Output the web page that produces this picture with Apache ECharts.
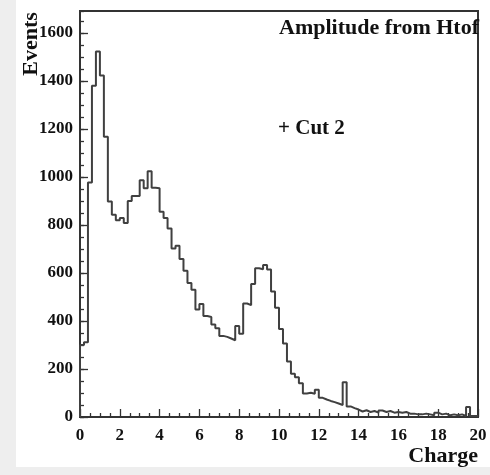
<!DOCTYPE html>
<html>
<head>
<meta charset="utf-8">
<script src="https://cdn.jsdelivr.net/npm/echarts@6/dist/echarts.min.js"></script>
<style>
  html, body { margin: 0; padding: 0; background: #eeeeee; }
  #main { position: absolute; left: 16px; top: 0; width: 474px; height: 467px; background: #ffffff; }
</style>
</head>
<body>
<div id="main"></div>
<script>
  // histogram: 100 bins of width 0.2 from 0 to 20
  var binStart = 0
  var binWidth = 0.2
  var counts = [
    300, 312, 977, 1381, 1523, 1423, 1168, 898, 843, 820,
    829, 808, 900, 921, 921, 987, 953, 1024, 955, 953,
    855, 829, 786, 702, 714, 658, 609, 558, 530, 448,
    471, 421, 417, 385, 370, 338, 334, 327, 320, 379,
    347, 473, 466, 554, 620, 616, 633, 615, 523, 455,
    367, 306, 231, 180, 166, 141, 98, 101, 97, 114,
    80, 73, 67, 62, 56, 50, 145, 44, 37, 31,
    23, 28, 21, 25, 18, 27, 21, 25, 18, 21,
    18, 21, 14, 14, 11, 11, 14, 11, 7, 18,
    11, 14, 7, 11, 7, 11, 4, 42, 4, 4
  ]
  var xTicks = [0, 2, 4, 6, 8, 10, 12, 14, 16, 18, 20]
  var yTicks = [0, 200, 400, 600, 800, 1000, 1200, 1400, 1600]
  var yMax = 1692

  var title = 'Amplitude from Htof'
  var note = '+ Cut 2'
  var xName = 'Charge'
  var yName = 'Events'

  var font = 'Liberation Serif'
  var ink = '#333333'

  // step points at bin edges
  var points = [[binStart, 0]]
  for (var i = 0; i < counts.length; i++) {
    points.push([+(binStart + i * binWidth).toFixed(2), counts[i]])
  }
  points.push([+(binStart + counts.length * binWidth).toFixed(2), counts[counts.length - 1]])

  var chart = echarts.init(document.getElementById('main'), null, { renderer: 'canvas' })

  var labelStyle = {
    color: '#111',
    fontFamily: font,
    fontWeight: 'bold',
    fontSize: 17,
    formatter: function (v) { return String(v) }
  }

  chart.setOption({
    animation: false,
    backgroundColor: '#ffffff',
    textStyle: { fontFamily: font },
    title: [{
      text: title,
      left: 258,
      top: 12,
      textStyle: { fontFamily: font, fontWeight: 'bold', fontSize: 22, color: '#111' }
    }, {
      text: note,
      left: 257,
      top: 113,
      textStyle: { fontFamily: font, fontWeight: 'bold', fontSize: 21, color: '#111' }
    }],
    grid: {
      left: 64,
      top: 11,
      right: 12,
      bottom: 46,
      show: true,
      borderColor: ink,
      borderWidth: 2,
      backgroundColor: 'transparent'
    },
    graphic: [{
      type: 'text',
      x: 15,
      y: 44,
      rotation: Math.PI / 2,
      style: {
        text: yName,
        fontFamily: font,
        fontWeight: 'bold',
        fontSize: 22,
        fill: '#111',
        align: 'center',
        verticalAlign: 'middle'
      }
    }],
    xAxis: {
      type: 'value',
      min: xTicks[0],
      max: xTicks[xTicks.length - 1],
      interval: xTicks[1] - xTicks[0],
      name: xName,
      nameLocation: 'end',
      nameGap: 0,
      nameTextStyle: {
        fontFamily: font,
        fontWeight: 'bold',
        fontSize: 22,
        color: '#111',
        align: 'right',
        verticalAlign: 'top',
        padding: [28, 0, 0, 0]
      },
      axisLine: { show: false },
      axisTick: { inside: true, length: 8, lineStyle: { color: ink, width: 1.3 } },
      minorTick: { show: true, splitNumber: 4, length: 4, lineStyle: { color: ink, width: 1.3 } },
      splitLine: { show: false },
      axisLabel: Object.assign({ margin: 10 }, labelStyle)
    },
    yAxis: [{
      type: 'value',
      min: yTicks[0],
      max: yMax,
      interval: yTicks[1] - yTicks[0],
      axisLine: { show: false },
      axisTick: { inside: true, length: 8, lineStyle: { color: ink, width: 1.3 } },
      splitLine: { show: false },
      axisLabel: Object.assign({ margin: 7, showMaxLabel: false }, labelStyle)
    }, {
      // minor ticks
      type: 'value',
      position: 'left',
      min: yTicks[0],
      max: yMax,
      interval: (yTicks[1] - yTicks[0]) / 4,
      axisLine: { show: false },
      axisTick: { inside: true, length: 4, lineStyle: { color: ink, width: 1.3 } },
      splitLine: { show: false },
      axisLabel: { show: false }
    }],
    series: [{
      name: title,
      type: 'line',
      step: 'end',
      symbol: 'none',
      yAxisIndex: 0,
      lineStyle: { color: '#404040', width: 2 },
      data: points
    }]
  })
</script>
</body>
</html>
